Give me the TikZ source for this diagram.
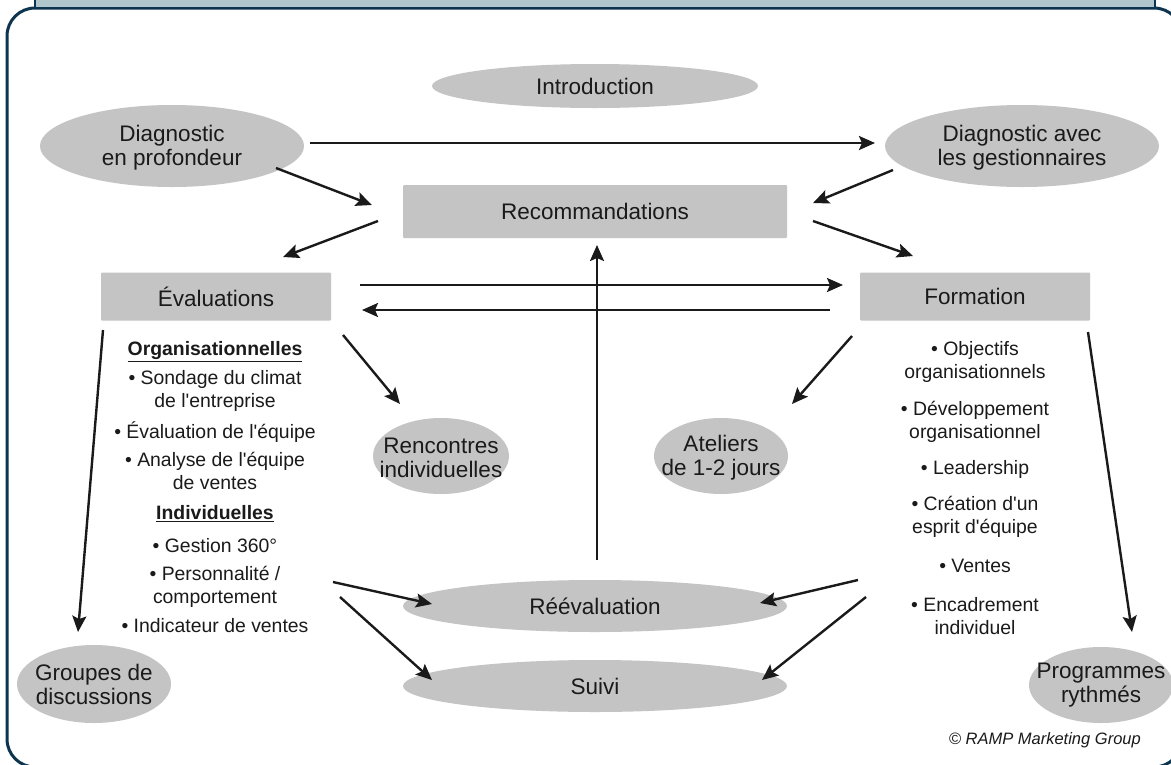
\documentclass[tikz,border=0pt]{standalone}
\usepackage{fontspec}
\setmainfont{Liberation Sans}[Ligatures=TeXOff]
\usetikzlibrary{shapes.geometric,arrows.meta}
\definecolor{navy}{HTML}{0D3550}
\definecolor{band}{HTML}{AFC7CC}
\definecolor{boxgray}{HTML}{C4C4C4}
\definecolor{ink}{HTML}{1A1A1A}
\begin{document}
\begin{tikzpicture}[x=1pt,y=-1pt,
  ell/.style={ellipse, fill=boxgray, draw=none, inner sep=0pt},
  lbl/.style={align=center, inner sep=0pt, text=ink, font=\fontsize{22.5}{24}\selectfont},
  rbox/.style={rectangle, fill=boxgray, inner sep=0pt, rounded corners=1pt, text=ink, font=\fontsize{22.5}{24}\selectfont},
  btxt/.style={align=center, inner sep=0pt, text=ink, font=\fontsize{19.4}{22.5}\selectfont},
  arr/.style={line width=2.4pt, draw=ink, -{Stealth[length=16pt,width=14pt,inset=3pt]}},
  ]
\useasboundingbox (0,0) rectangle (1171,764);
% frame
\draw[navy, line width=3pt, fill=white, rounded corners=28pt] (7,8) rectangle (1182,767);
\draw[navy, line width=2.5pt, fill=band] (35,-10) rectangle (1155,8);

% ellipses
\node[ell, minimum width=326pt, minimum height=44pt, label={[lbl]center:Introduction}] (intro) at (595,86) {};
\node[ell, minimum width=264pt, minimum height=82pt, label={[lbl, yshift=-2pt]center:Diagnostic\\en profondeur}] (diag1) at (172,146) {};
\node[ell, minimum width=274pt, minimum height=82pt, label={[lbl, yshift=-2pt]center:Diagnostic avec\\les gestionnaires}] (diag2) at (1022,146) {};
\node[ell, minimum width=136pt, minimum height=76pt, label={[lbl, yshift=-2pt]center:Rencontres\\individuelles}] (renc) at (441,456) {};
\node[ell, minimum width=134pt, minimum height=76pt, label={[lbl, yshift=-2pt]center:Ateliers\\de 1-2 jours}] (atel) at (721,456) {};
\node[ell, minimum width=384pt, minimum height=52pt, label={[lbl]center:Réévaluation}] (reev) at (595,606) {};
\node[ell, minimum width=384pt, minimum height=52pt, label={[lbl]center:Suivi}] (suivi) at (595,686) {};
\node[ell, minimum width=154pt, minimum height=78pt, label={[lbl]center:Groupes de\\discussions}] (group) at (94,684) {};
\node[ell, minimum width=144pt, minimum height=76pt, label={[lbl]center:Programmes\\rythmés}] (progr) at (1101,685) {};

% boxes
\node[rbox, minimum width=384pt, minimum height=53pt] (reco) at (595,211.5) {Recommandations};
\node[rbox, minimum width=230pt, minimum height=48pt] (eval) at (216,296.5) {Évaluations};
\node[rbox, minimum width=230pt, minimum height=48pt] (form) at (975,296.5) {Formation};

% left column
\node[btxt] (lo) at (215,352) {\textbf{\underline{Organisationnelles}}};
\node[btxt] (l1) at (215,391) {• Sondage du climat\\de l'entreprise};
\node[btxt] (l2) at (215,432) {• Évaluation de l'équipe};
\node[btxt] (l3) at (215,471) {• Analyse de l'équipe\\de ventes};
\node[btxt] (li) at (215,514) {\textbf{\underline{Individuelles}}};
\node[btxt] (l4) at (215,546) {• Gestion 360°};
\node[btxt] (l5) at (215,587) {• Personnalité /\\comportement};
\node[btxt] (l6) at (215,626) {• Indicateur de ventes};

% right column
\node[btxt] (r1) at (975,362) {• Objectifs\\organisationnels};
\node[btxt] (r2) at (975,422) {• Développement\\organisationnel};
\node[btxt] (r3) at (975,469) {• Leadership};
\node[btxt] (r4) at (975,517) {• Création d'un\\esprit d'équipe};
\node[btxt] (r5) at (975,566) {• Ventes};
\node[btxt] (r6) at (975,616) {• Encadrement\\individuel};

\node[anchor=east, inner sep=0pt, text=ink, font=\fontsize{16.5}{18}\selectfont\itshape] (copy) at (1141,740) {© RAMP Marketing Group};

% connector end points
\coordinate (d1s) at (276,168);  \coordinate (d1e) at (372,205);
\coordinate (d2s) at (893,170);  \coordinate (d2e) at (813,203);
\coordinate (rls) at (378,221);  \coordinate (rle) at (283,257);
\coordinate (rrs) at (813,221);  \coordinate (rre) at (913,256);
\coordinate (dhs) at (310,143);  \coordinate (dhe) at (875,143);
\coordinate (ers) at (343,335);  \coordinate (ere) at (400,404);
\coordinate (fas) at (852,336);  \coordinate (fae) at (792,404);
\coordinate (efs) at (360,285);  \coordinate (efe) at (843,285);
\coordinate (fes) at (830,310);  \coordinate (fee) at (362,310);
\coordinate (vs)  at (597,560);  \coordinate (ve)  at (597,245);
\coordinate (lrs) at (333,582);  \coordinate (lre) at (432,604);
\coordinate (lss) at (340,597);  \coordinate (lse) at (432,680);
\coordinate (rvs) at (858,580);  \coordinate (rve) at (760,603);
\coordinate (rss) at (866,597);  \coordinate (rse) at (762,680);
\coordinate (egs) at (103,330);  \coordinate (ege) at (78,632);
\coordinate (fps) at (1088,332); \coordinate (fpe) at (1132,632);

\draw[arr] (d1s) -- (d1e);
\draw[arr] (d2s) -- (d2e);
\draw[arr] (rls) -- (rle);
\draw[arr] (rrs) -- (rre);
\draw[arr] (dhs) -- (dhe);
\draw[arr] (ers) -- (ere);
\draw[arr] (fas) -- (fae);
\draw[arr] (efs) -- (efe);
\draw[arr] (fes) -- (fee);
\draw[arr] (vs) -- (ve);
\draw[arr] (lrs) -- (lre);
\draw[arr] (lss) -- (lse);
\draw[arr] (rvs) -- (rve);
\draw[arr] (rss) -- (rse);
\draw[arr] (egs) -- (ege);
\draw[arr] (fps) -- (fpe);
\end{tikzpicture}
\end{document}
